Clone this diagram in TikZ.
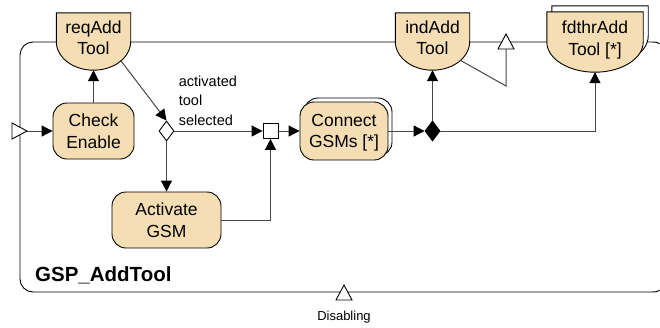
\documentclass[tikz,border=0pt]{standalone}
\usepackage{fontspec}
\setmainfont{Liberation Sans}
\usepackage{tikz}
\usetikzlibrary{positioning, arrows.meta, calc, shapes.geometric, shadows, backgrounds}
\definecolor{actfill}{RGB}{245,222,179}
\definecolor{flowgray}{RGB}{70,70,70}
% outline of a port: flat top, straight sides, round bottom
\newcommand{\portoutline}[1]{(#1.north west) -- (#1.west)
  .. controls ($(#1.west)!0.552!(#1.south west)$) and ($(#1.south)!0.552!(#1.south west)$) .. (#1.south)
  .. controls ($(#1.south)!0.552!(#1.south east)$) and ($(#1.east)!0.552!(#1.south east)$) .. (#1.east)
  -- (#1.north east) -- cycle}

\begin{document}
\begin{tikzpicture}[x=1pt, y=-1pt, every node/.style={font=\fontsize{17.5}{21.5}\selectfont},
    actbox/.style={draw, line width=0.9pt, fill=actfill, rounded corners=14pt, align=center, inner sep=0pt, text depth=0pt},
    portbox/.style={align=center, inner sep=0pt, minimum width=74pt, minimum height=57pt, text depth=8pt},
    choice/.style={diamond, draw, line width=0.9pt, inner sep=0pt, minimum width=15pt, minimum height=20pt},
    flow/.style={draw=flowgray, line width=1pt, -{Triangle[length=11pt, width=11pt, color=black]}},
    plainflow/.style={draw=flowgray, line width=1pt}]
  \useasboundingbox (0,0) rectangle (660,327);

  % Ports
  \node[portbox] (req) at (93.5,41.5) {reqAdd\\Tool};
  \node[portbox] (ind) at (432.5,41.5) {indAdd\\Tool};
  \node[portbox, minimum width=96pt, minimum height=60pt] (fd) at (595,42) {fdthrAdd\\Tool [*]};
  \node[portbox, minimum width=96pt, minimum height=60pt] (fdcopy) at ($(fd)+(5,-6)$) {};

  % Activities
  \node[actbox, minimum width=81pt, minimum height=56pt] (chk) at (93.5,131) {Check\\Enable};
  \node[actbox, minimum width=109pt, minimum height=56pt] (act) at (166.5,220) {Activate\\GSM};
  \node[actbox, minimum width=88pt, minimum height=58pt,
    copy shadow={shadow xshift=4pt, shadow yshift=4pt, fill=white, draw=black, line width=0.9pt}] (conn) at (344,131) {Connect\\GSMs [*]};

  % Branch and join points
  \node[choice, fill=white] (dec) at (166.5,131) {};
  \node[draw, line width=0.9pt, fill=white, minimum size=15pt, inner sep=0pt] (sq) at (270.5,131) {};
  \node[choice, fill=black] (bd) at (432.5,131) {};

  % Start, exit and disabling points
  \draw[fill=white, line width=0.9pt] (12,123) -- (27,131) -- (12,139) -- cycle;
  \coordinate (start) at (27,131);
  \draw[fill=white, line width=0.9pt] (498,49) -- (506,34) -- (514,49) -- cycle;
  \coordinate (exitb) at (506,49);
  \coordinate (bend) at (506,86);
  \draw[fill=white, line width=0.9pt] (336,300) -- (344,285) -- (352,300) -- cycle;

  % Texts
  \node[anchor=north west, inner sep=0pt, align=left, font=\fontsize{14.5}{19.5}\selectfont] (guard) at (178.7,75.5) {activated\\tool\\selected};
  \node[anchor=base west, inner sep=0pt, font=\bfseries\fontsize{20.5}{24}\selectfont] (title) at (35,281.5) {GSP\_AddTool};
  \node[anchor=base, inner sep=0pt, font=\fontsize{13}{15}\selectfont] (dislbl) at (344,320.5) {Disabling};

  % Frame (runs on past the right edge) and port outlines
  \begin{scope}[on background layer]
    \draw[line width=0.9pt] (659.5,44) .. controls (657.5,42.3) .. (652,42)
      [rounded corners=13pt] -- (20,42) -- (20,292) [sharp corners] -- (652,292)
      .. controls (657.5,291.7) .. (659.5,290);
    \draw[line width=0.9pt, fill=actfill] \portoutline{req};
    \draw[line width=0.9pt, fill=actfill] \portoutline{ind};
    \draw[line width=0.9pt, fill=white] \portoutline{fdcopy};
    \draw[line width=0.9pt, fill=actfill] \portoutline{fd};
  \end{scope}

  % Flows
  \draw[flow] (start) -- (chk);
  \draw[flow] (chk) -- (req);
  \draw[flow] ($(req.east)+(-10,19)$) -- (dec.north);
  \draw[flow] (dec) -- (sq);
  \draw[flow] (dec) -- (act);
  \draw[flow] (act.east) -| (sq.south);
  \draw[flow] (sq) -- (conn);
  \draw[flow] (conn) -- (bd);
  \draw[flow] (bd) -- (ind);
  \draw[flow] (bd.east) -| (fd.south);
  \draw[plainflow] ($(ind.east)+(-9,19)$) -- (bend) -- (exitb);
\end{tikzpicture}
\end{document}
